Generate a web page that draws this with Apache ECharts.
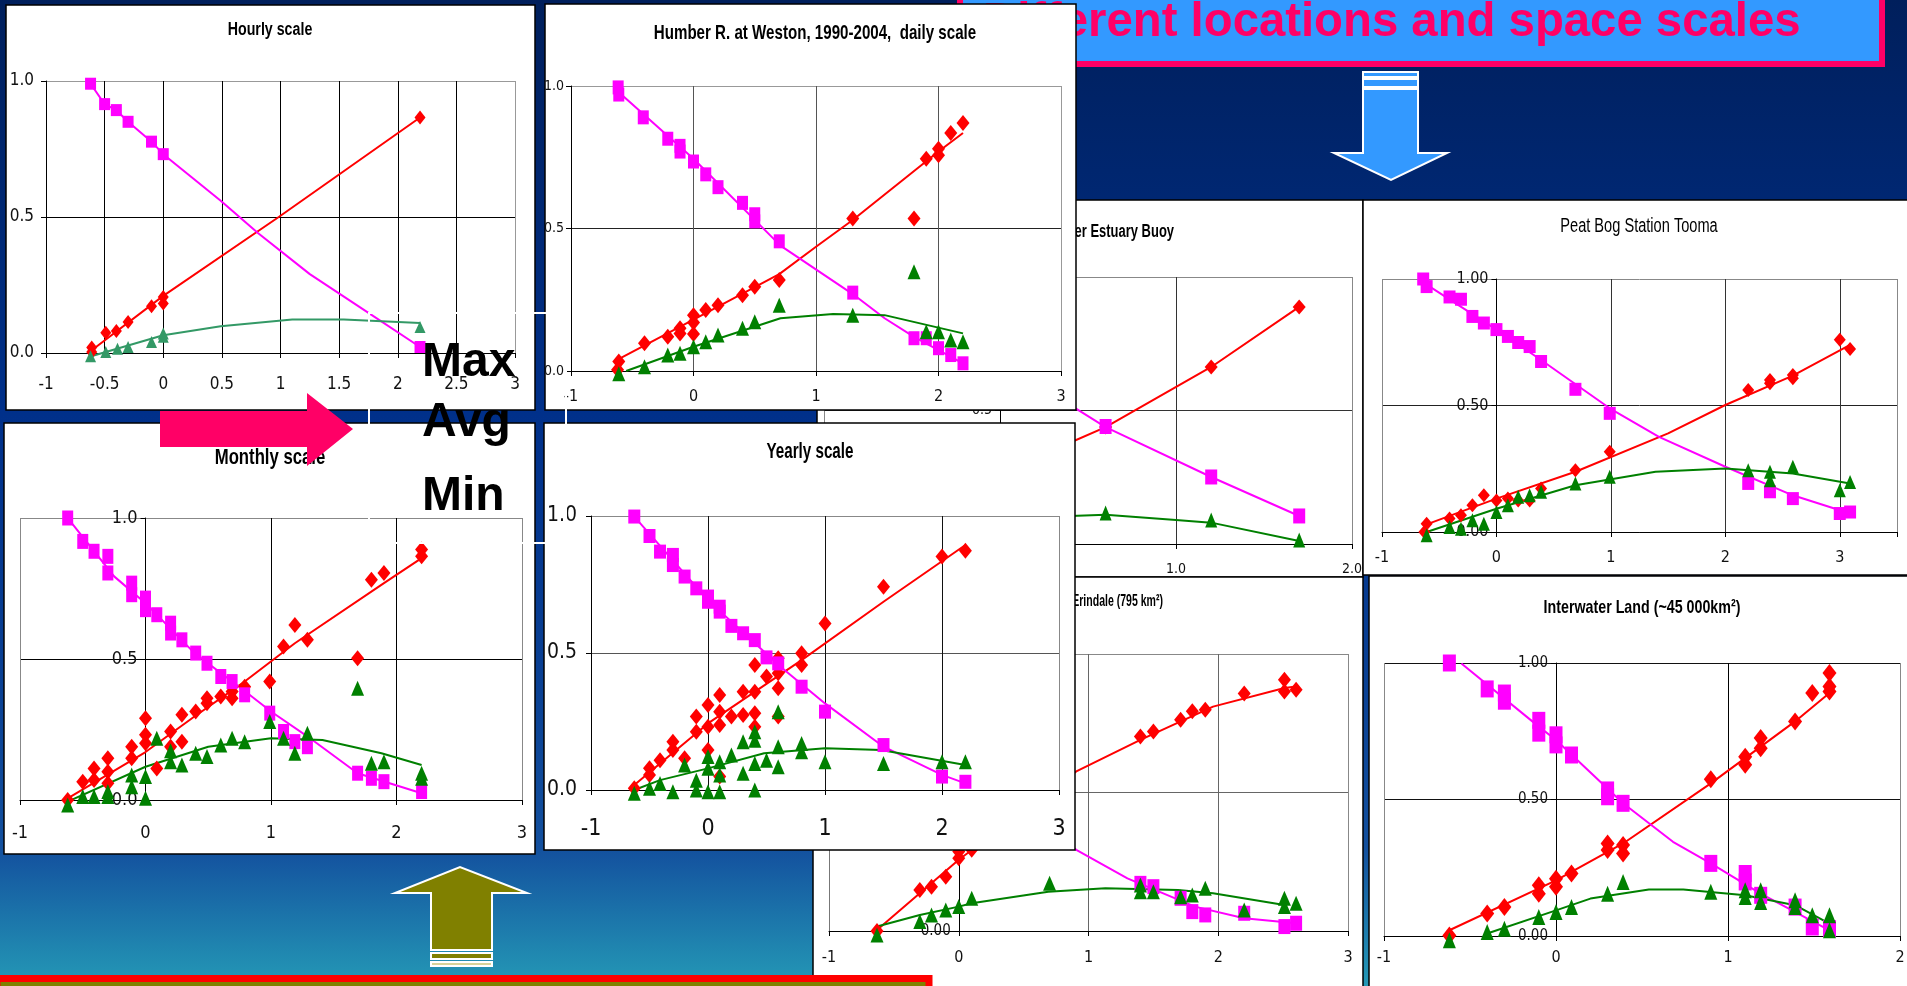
<!DOCTYPE html>
<html>
<head>
<meta charset="utf-8">
<script src="https://cdn.jsdelivr.net/npm/echarts@6/dist/echarts.min.js"></script>
<style>
html,body{margin:0;padding:0;overflow:hidden;background:#00205f}
#c{width:1907px;height:986px}
</style>
</head>
<body>
<div id="c"></div>
<script>
// ---------- Hourly scale ----------
const hourlyMax = [[-0.61,0.004],[-0.61,0.02],[-0.49,0.074],[-0.4,0.081],[-0.3,0.114],[-0.1,0.172],[0,0.206],[0,0.182],[2.19,0.866]];
const hourlyAvg = [[-0.62,0.99],[-0.5,0.915],[-0.4,0.893],[-0.3,0.85],[-0.1,0.777],[0,0.731],[2.19,0.022]];
const hourlyMin = [[-0.62,-0.012],[-0.49,0.004],[-0.39,0.016],[-0.3,0.022],[-0.1,0.04],[0,0.06],[0,0.072],[2.19,0.096]];
const hourlyMaxFit = [[-0.61,0.01],[0,0.21],[0.985,0.5],[2.19,0.866]];
const hourlyAvgFit = [[-0.62,0.99],[-0.5,0.915],[-0.4,0.893],[-0.3,0.85],[-0.1,0.777],[0,0.731],[0.49,0.56],[0.81,0.44],[1.25,0.29],[1.76,0.145],[2.19,0.022]];
const hourlyMinFit = [[-0.6,-0.01],[0,0.065],[0.49,0.098],[1.1,0.123],[1.54,0.123],[2.19,0.11]];

// ---------- Humber R. at Weston, daily ----------
const humberMax = [[-0.61,0.033],[-0.62,0.004],[-0.4,0.097],[-0.21,0.12],[-0.11,0.15],[-0.11,0.132],[0,0.196],[0,0.17],[0,0.13],[0.1,0.214],[0.2,0.231],[0.4,0.266],[0.5,0.296],[0.7,0.319],[1.3,0.535],[1.8,0.535],[1.9,0.745],[2.0,0.78],[2.0,0.757],[2.1,0.835],[2.2,0.87]];
const humberAvg = [[-0.615,0.995],[-0.61,0.97],[-0.41,0.89],[-0.21,0.815],[-0.11,0.79],[-0.11,0.77],[0,0.735],[0.1,0.69],[0.2,0.645],[0.4,0.59],[0.5,0.55],[0.5,0.525],[0.7,0.455],[1.3,0.275],[1.8,0.115],[1.9,0.115],[2.0,0.08],[2.1,0.056],[2.2,0.027]];
const humberMin = [[-0.61,-0.01],[-0.4,0.015],[-0.21,0.056],[-0.11,0.062],[0,0.085],[0.1,0.103],[0.2,0.126],[0.4,0.15],[0.5,0.173],[0.7,0.231],[1.3,0.196],[1.8,0.348],[1.9,0.138],[2.0,0.138],[2.1,0.109],[2.2,0.103]];
const humberMaxFit = [[-0.6,0.044],[0,0.18],[0.7,0.34],[1.0,0.436],[1.3,0.53],[2.0,0.77],[2.2,0.835]];
const humberAvgFit = [[-0.58,0.967],[0,0.745],[0.71,0.44],[1.3,0.27],[1.56,0.185],[1.8,0.12],[2.2,0.027]];
const humberMinFit = [[-0.55,0.0],[0,0.085],[0.71,0.185],[1.14,0.2],[1.56,0.196],[2.2,0.132]];

// ---------- Monthly scale ----------
const monthlyMax = [[-0.62,0.0],[-0.5,0.065],[-0.41,0.112],[-0.41,0.071],[-0.3,0.148],[-0.3,0.1],[-0.3,0.059],[-0.11,0.189],[-0.11,0.148],[0,0.29],[0,0.231],[0,0.201],[0.09,0.112],[0.2,0.243],[0.2,0.189],[0.29,0.302],[0.29,0.207],[0.4,0.314],[0.49,0.361],[0.49,0.343],[0.6,0.367],[0.69,0.385],[0.69,0.361],[0.79,0.402],[0.99,0.42],[1.1,0.544],[1.19,0.621],[1.29,0.568],[1.69,0.503],[1.8,0.781],[1.9,0.805],[2.2,0.888],[2.2,0.864]];
const monthlyAvg = [[-0.62,1.0],[-0.5,0.917],[-0.41,0.882],[-0.3,0.864],[-0.3,0.805],[-0.11,0.769],[-0.11,0.728],[0,0.716],[0,0.675],[0.09,0.657],[0.2,0.627],[0.2,0.592],[0.29,0.568],[0.4,0.521],[0.49,0.485],[0.6,0.438],[0.69,0.42],[0.79,0.373],[0.99,0.308],[1.1,0.243],[1.19,0.207],[1.29,0.189],[1.69,0.095],[1.8,0.077],[1.9,0.065],[2.2,0.03]];
const monthlyMin = [[-0.62,-0.018],[-0.5,0.012],[-0.41,0.012],[-0.3,0.012],[-0.3,0.03],[-0.11,0.089],[-0.11,0.047],[0,0.083],[0,0.006],[0.09,0.219],[0.2,0.136],[0.2,0.175],[0.29,0.124],[0.4,0.166],[0.49,0.154],[0.6,0.195],[0.69,0.219],[0.79,0.207],[0.99,0.278],[1.1,0.219],[1.19,0.166],[1.29,0.237],[1.69,0.396],[1.8,0.13],[1.9,0.136],[2.2,0.095],[2.2,0.077]];
const monthlyMaxFit = [[-0.62,0.006],[0,0.17],[0.39,0.296],[0.79,0.42],[1.19,0.556],[1.9,0.769],[2.2,0.858]];
const monthlyAvgFit = [[-0.61,0.994],[-0.25,0.793],[0,0.698],[0.39,0.521],[0.78,0.39],[1.0,0.314],[1.33,0.213],[1.69,0.095],[2.2,0.024]];
const monthlyMinFit = [[-0.62,-0.006],[0,0.118],[0.5,0.189],[1.0,0.219],[1.41,0.213],[1.88,0.166],[2.2,0.124]];

// ---------- Yearly scale ----------
const yearlyMax = [[-0.63,0.006],[-0.5,0.079],[-0.5,0.055],[-0.41,0.109],[-0.3,0.176],[-0.3,0.146],[-0.2,0.116],[-0.1,0.268],[-0.1,0.213],[0,0.31],[0,0.231],[0,0.146],[0.1,0.347],[0.1,0.286],[0.1,0.237],[0.1,0.049],[0.2,0.268],[0.3,0.359],[0.3,0.274],[0.4,0.456],[0.4,0.359],[0.4,0.28],[0.4,0.231],[0.5,0.414],[0.6,0.481],[0.6,0.426],[0.6,0.371],[0.6,0.268],[0.8,0.499],[0.8,0.456],[1.0,0.608],[1.5,0.742],[2.0,0.852],[2.2,0.873]];
const yearlyAvg = [[-0.63,0.998],[-0.5,0.927],[-0.41,0.87],[-0.3,0.858],[-0.3,0.821],[-0.2,0.779],[-0.1,0.736],[0,0.706],[0,0.687],[0.1,0.669],[0.1,0.651],[0.2,0.599],[0.3,0.572],[0.4,0.547],[0.5,0.484],[0.6,0.462],[0.8,0.377],[1.0,0.286],[1.5,0.164],[2.0,0.049],[2.2,0.03]];
const yearlyMin = [[-0.63,-0.012],[-0.5,0.006],[-0.41,0.024],[-0.3,-0.006],[-0.2,0.091],[-0.1,0.036],[-0.1,0.0],[0,0.122],[0,0.079],[0,-0.006],[0.1,0.103],[0.1,0.055],[0.1,-0.006],[0.2,0.128],[0.3,0.176],[0.3,0.061],[0.4,0.182],[0.4,0.213],[0.4,0.097],[0.4,0.0],[0.5,0.109],[0.6,0.158],[0.6,0.085],[0.6,0.286],[0.8,0.17],[0.8,0.14],[1.0,0.103],[1.5,0.097],[2.0,0.103],[2.2,0.103]];
const yearlyMaxFit = [[-0.63,0.018],[0,0.243],[0.8,0.474],[1.5,0.687],[2.2,0.894]];
const yearlyAvgFit = [[-0.63,0.998],[0,0.693],[0.62,0.45],[1.0,0.316],[1.5,0.158],[2.0,0.055],[2.2,0.024]];
const yearlyMinFit = [[-0.63,0.0],[-0.41,0.036],[0,0.079],[0.48,0.134],[1.0,0.152],[1.48,0.146],[2.2,0.091]];

// ---------- River Estuary Buoy ----------
const estuaryMax = [[0.6,0.438],[1.2,0.663],[1.7,0.888]];
const estuaryAvg = [[0.6,0.44],[1.2,0.251],[1.7,0.105]];
const estuaryMin = [[0.6,0.116],[1.2,0.09],[1.7,0.015]];
const estuaryMaxFit = [[0.4,0.38],[0.6,0.438],[1.2,0.663],[1.7,0.888]];
const estuaryAvgFit = [[0.4,0.52],[0.6,0.438],[1.2,0.251],[1.7,0.105]];
const estuaryMinFit = [[0.4,0.105],[0.6,0.11],[1.0,0.09],[1.2,0.08],[1.7,0.011]];

// ---------- Peat Bog Station Tooma ----------
const peatMax = [[-0.61,0.033],[-0.63,0.0],[-0.41,0.053],[-0.31,0.066],[-0.21,0.106],[-0.11,0.145],[0,0.125],[0.1,0.132],[0.19,0.125],[0.29,0.125],[0.39,0.172],[0.69,0.244],[0.99,0.317],[2.2,0.561],[2.39,0.601],[2.39,0.588],[2.59,0.621],[2.59,0.608],[3.0,0.76],[3.09,0.723]];
const peatAvg = [[-0.64,1.0],[-0.61,0.97],[-0.41,0.929],[-0.31,0.92],[-0.21,0.852],[-0.11,0.826],[0,0.8],[0.1,0.773],[0.19,0.749],[0.29,0.733],[0.39,0.674],[0.69,0.564],[0.99,0.469],[2.2,0.192],[2.39,0.159],[2.59,0.132],[3.0,0.073],[3.09,0.079]];
const peatMin = [[-0.61,-0.013],[-0.41,0.02],[-0.31,0.013],[-0.21,0.046],[-0.11,0.033],[0,0.079],[0.1,0.106],[0.19,0.139],[0.29,0.145],[0.39,0.159],[0.69,0.192],[0.99,0.218],[2.2,0.244],[2.39,0.238],[2.39,0.205],[2.59,0.258],[3.0,0.165],[3.09,0.198]];
const peatMaxFit = [[-0.61,0.03],[0,0.132],[0.69,0.238],[1.5,0.39],[2.0,0.502],[2.59,0.618],[3.09,0.74]];
const peatAvgFit = [[-0.61,0.978],[0,0.8],[0.39,0.68],[0.99,0.489],[1.42,0.376],[2.0,0.258],[2.59,0.145],[3.09,0.073]];
const peatMinFit = [[-0.61,0.0],[0,0.092],[0.69,0.185],[1.39,0.238],[2.0,0.251],[2.59,0.231],[3.09,0.192]];

// ---------- Credit R. at Erindale ----------
const erindaleMax = [[-0.63,0.0],[-0.3,0.148],[-0.21,0.16],[-0.1,0.196],[0,0.263],[0,0.287],[0.1,0.293],[1.4,0.702],[1.5,0.72],[1.71,0.763],[1.8,0.793],[1.9,0.799],[2.2,0.857],[2.51,0.907],[2.51,0.865],[2.6,0.871]];
const erindaleAvg = [[1.4,0.172],[1.5,0.16],[1.71,0.118],[1.8,0.07],[1.9,0.058],[2.2,0.064],[2.51,0.016],[2.6,0.028]];
const erindaleMin = [[-0.63,-0.014],[-0.3,0.034],[-0.21,0.058],[-0.1,0.076],[0,0.088],[0.1,0.118],[0.7,0.172],[1.4,0.166],[1.4,0.142],[1.5,0.142],[1.71,0.124],[1.8,0.13],[1.9,0.154],[2.2,0.076],[2.51,0.118],[2.51,0.088],[2.6,0.1]];
const erindaleMaxFit = [[-0.63,0.004],[0,0.257],[0.906,0.576],[1.4,0.69],[1.96,0.81],[2.51,0.877],[2.6,0.883]];
const erindaleAvgFit = [[0.6,0.4],[0.906,0.293],[1.3,0.19],[1.82,0.088],[2.2,0.046],[2.6,0.028]];
const erindaleMinFit = [[-0.63,0.016],[-0.3,0.058],[0,0.088],[0.1,0.1],[0.69,0.142],[1.13,0.154],[1.69,0.148],[1.96,0.136],[2.51,0.094]];

// ---------- Interwater Land ----------
const interMax = [[-0.62,0.002],[-0.4,0.082],[-0.3,0.106],[-0.1,0.186],[-0.1,0.155],[0,0.21],[0,0.18],[0.09,0.229],[0.3,0.339],[0.3,0.315],[0.39,0.333],[0.39,0.302],[0.9,0.574],[1.1,0.657],[1.1,0.627],[1.19,0.725],[1.19,0.688],[1.39,0.786],[1.49,0.89],[1.59,0.963],[1.59,0.914],[1.59,0.896]];
const interAvg = [[-0.62,1.0],[-0.4,0.905],[-0.3,0.89],[-0.3,0.86],[-0.1,0.79],[-0.1,0.743],[0,0.737],[0,0.7],[0.09,0.663],[0.3,0.535],[0.3,0.51],[0.39,0.486],[0.9,0.266],[1.1,0.229],[1.1,0.198],[1.19,0.149],[1.39,0.106],[1.49,0.033],[1.59,0.027]];
const interMin = [[-0.62,-0.016],[-0.4,0.015],[-0.3,0.027],[-0.1,0.07],[0,0.088],[0.09,0.106],[0.3,0.155],[0.39,0.198],[0.9,0.162],[1.1,0.168],[1.1,0.143],[1.19,0.168],[1.19,0.125],[1.39,0.131],[1.39,0.106],[1.49,0.076],[1.59,0.076],[1.59,0.021]];
const interMaxFit = [[-0.62,0.021],[0,0.204],[0.39,0.339],[0.9,0.559],[1.39,0.786],[1.59,0.89]];
const interAvgFit = [[-0.55,0.998],[-0.1,0.767],[0,0.718],[0.39,0.486],[0.68,0.345],[0.9,0.266],[1.19,0.155],[1.59,0.021]];
const interMinFit = [[-0.4,0.009],[0,0.094],[0.2,0.137],[0.54,0.17],[0.74,0.17],[1.1,0.149],[1.39,0.113],[1.59,0.045]];

// ---------- slide texts ----------
const slideHeading = 'Different locations and space scales';
const legendWords = ['Max', 'Avg', 'Min'];

// ---------- styling & layout ----------
const RED = '#ff0000', MAG = '#ff00ff', GREEN = '#008000';
const NARROW = '"Liberation Sans Narrow","DejaVu Sans Condensed","Liberation Sans",sans-serif';
const f1 = v => v.toFixed(1);
const f2 = v => v.toFixed(2);
const plain = v => String(v);

// zlevel 0: panels lying behind; zlevel 1: the four time-scale panels in front
const panels = [
  { zlevel:0, box:[817,200,546,377], grid:[824,277,528,267],
    title:{text:'River Estuary Buoy', x:1174, y:232, font:'bold 18px "Liberation Sans"', sx:0.72, align:'right'},
    x:{min:-1,max:2,interval:1,fmt:f1,size:14,margin:18,split:['#888','#222','#333','#888']},
    y:{min:0,max:1,interval:0.5,fmt:f1,size:14,margin:8,atZero:true,split:['#000','#333','#888']},
    sym:{max:[13,15],avg:[12,15],min:[12,15]},
    d:[estuaryMax,estuaryAvg,estuaryMin,estuaryMaxFit,estuaryAvgFit,estuaryMinFit] },
  { zlevel:0, box:[813,577,550,420], grid:[829,654,519,277],
    title:{text:'Credit R. at Erindale (795 km²)', x:1163, y:601, font:'bold 17px "Liberation Sans"', sx:0.62, align:'right'},
    x:{min:-1,max:3,interval:1,fmt:plain,size:16,margin:19,split:['#777','#000','#666','#666','#888']},
    y:{min:0,max:1,interval:0.5,fmt:f2,size:15,margin:8,atZero:true,split:['#000','#666','#888']},
    sym:{max:[13,16],avg:[12,15],min:[13,15]},
    d:[erindaleMax,erindaleAvg,erindaleMin,erindaleMaxFit,erindaleAvgFit,erindaleMinFit] },
  { zlevel:0, box:[1363,200,560,375], grid:[1382,279,515,253],
    title:{text:'Peat Bog Station Tooma', x:1639, y:226, font:'20px "Liberation Sans"', sx:0.73, align:'center'},
    x:{min:-1,max:3.5,interval:1,fmt:v => (v === 3.5 ? '' : plain(v)),size:16,margin:18,split:['#888','#333','#333','#333','#333','#888']},
    y:{min:0,max:1,interval:0.5,fmt:f2,size:16,margin:8,atZero:true,split:['#000','#222','#888']},
    sym:{max:[12,14],avg:[12,13],min:[12,14]},
    d:[peatMax,peatAvg,peatMin,peatMaxFit,peatAvgFit,peatMinFit] },
  { zlevel:0, box:[1369,576,560,420], grid:[1384,663,516,273],
    title:{text:'Interwater Land (~45 000km²)', x:1642, y:608, font:'bold 19px "Liberation Sans"', sx:0.75, align:'center'},
    x:{min:-1,max:2,interval:1,fmt:plain,size:16,margin:14,split:['#888','#000','#000','#888']},
    y:{min:0,max:1,interval:0.5,fmt:f2,size:15,margin:8,atZero:true,split:['#000','#111','#111']},
    sym:{max:[14,18],avg:[13,17],min:[13,16]},
    d:[interMax,interAvg,interMin,interMaxFit,interAvgFit,interMinFit] },
  { zlevel:1, box:[6,5,529,405], grid:[46,81,469,272],
    title:{text:'Hourly scale', x:270, y:30, font:'bold 18px "Liberation Sans"', sx:0.79, align:'center'},
    x:{min:-1,max:3,interval:0.5,fmt:plain,size:17,margin:23,split:['#000','#000','#000','#000','#000','#000','#000','#000','#999']},
    y:{min:0,max:1,interval:0.5,fmt:f1,size:17,margin:12,atZero:false,split:['#000','#000','#999']},
    sym:{max:[11,14],avg:[11,12],min:[11,12]}, minColor:'#339966',
    d:[hourlyMax,hourlyAvg,hourlyMin,hourlyMaxFit,hourlyAvgFit,hourlyMinFit] },
  { zlevel:1, box:[545,4,531,406], grid:[571,86,490,285],
    title:{text:'Humber R. at Weston, 1990-2004,  daily scale', x:815, y:33, font:'bold 21px "Liberation Sans"', sx:0.72, align:'center'},
    x:{min:-1,max:3,interval:1,fmt:plain,size:16,margin:18,split:['#000','#555','#555','#555','#999']},
    y:{min:0,max:1,interval:0.5,fmt:f1,size:14,margin:7,atZero:false,split:['#000','#222','#999']},
    sym:{max:[13,16],avg:[11,14],min:[13,15]},
    d:[humberMax,humberAvg,humberMin,humberMaxFit,humberAvgFit,humberMinFit] },
  { zlevel:1, box:[4,423,531,431], grid:[20,518,502,282],
    title:{text:'Monthly scale', x:270, y:458, font:'bold 22px "Liberation Sans"', sx:0.76, align:'center'},
    x:{min:-1,max:3,interval:1,fmt:plain,size:18,margin:24,split:['#888','#000','#000','#000','#888']},
    y:{min:0,max:1,interval:0.5,fmt:f1,size:18,margin:8,atZero:true,split:['#000','#000','#888']},
    sym:{max:[13,16],avg:[11,15],min:[13,15]},
    d:[monthlyMax,monthlyAvg,monthlyMin,monthlyMaxFit,monthlyAvgFit,monthlyMinFit] },
  { zlevel:1, box:[544,423,531,427], grid:[591,516,468,274],
    title:{text:'Yearly scale', x:810, y:452, font:'bold 22px "Liberation Sans"', sx:0.69, align:'center'},
    x:{min:-1,max:3,interval:1,fmt:plain,size:23,margin:28,split:['#000','#111','#111','#111','#888']},
    y:{min:0,max:1,interval:0.5,fmt:f1,size:21,margin:14,atZero:false,split:['#000','#555','#888']},
    sym:{max:[13,16],avg:[12,14],min:[13,15]},
    d:[yearlyMax,yearlyAvg,yearlyMin,yearlyMaxFit,yearlyAvgFit,yearlyMinFit] }
];

const grids = [], xAxes = [], yAxes = [], series = [];
const graphics = [];

// slide background
graphics.push({ type:'rect', zlevel:0, z:-100, silent:true,
  shape:{x:0,y:0,width:1907,height:986},
  style:{fill:new echarts.graphic.LinearGradient(0,0,0,1,[
    {offset:0,color:'#001f5c'},{offset:0.42,color:'#00308a'},{offset:0.7,color:'#0a4194'},
    {offset:0.86,color:'#13509e'},{offset:1,color:'#2499b6'}])}});

// heading box
graphics.push({ type:'rect', zlevel:0, z:-90, silent:true,
  shape:{x:960,y:-20,width:922,height:84}, style:{fill:'#3399ff',stroke:'#ff0066',lineWidth:6}});
graphics.push({ type:'text', zlevel:0, z:-89, silent:true, x:983, y:23,
  style:{text:slideHeading, font:'bold 47.3px "Liberation Sans"', fill:'#ff0066',
    textAlign:'left', textVerticalAlign:'middle', align:'left', verticalAlign:'middle'}});

// down arrow under the heading
graphics.push({ type:'polygon', zlevel:0, z:-89, silent:true,
  shape:{points:[[1363,89],[1418,89],[1418,153],[1447,153],[1391,180],[1334,153],[1363,153]]},
  style:{fill:'#3399ff',stroke:'#fff',lineWidth:2}});
graphics.push({ type:'rect', zlevel:0, z:-89, silent:true,
  shape:{x:1363,y:79,width:55,height:8}, style:{fill:'#3399ff',stroke:'#fff',lineWidth:2}});
graphics.push({ type:'rect', zlevel:0, z:-89, silent:true,
  shape:{x:1363,y:72,width:55,height:5}, style:{fill:'#3399ff',stroke:'#fff',lineWidth:2}});

// up arrow at the bottom
graphics.push({ type:'polygon', zlevel:0, z:-89, silent:true,
  shape:{points:[[431,950],[431,893],[395,893],[460,867],[527,893],[492,893],[492,950]]},
  style:{fill:'#808000',stroke:'#fff',lineWidth:2}});
graphics.push({ type:'rect', zlevel:0, z:-89, silent:true,
  shape:{x:431,y:953,width:61,height:6}, style:{fill:'#808000',stroke:'#fff',lineWidth:2}});
graphics.push({ type:'rect', zlevel:0, z:-89, silent:true,
  shape:{x:431,y:962,width:61,height:4}, style:{fill:'#d6d29a',stroke:'#fff',lineWidth:2}});

panels.forEach((p, i) => {
  const zl = p.zlevel;
  graphics.push({ type:'rect', zlevel:zl, z:-50, silent:true,
    shape:{x:p.box[0],y:p.box[1],width:p.box[2],height:p.box[3]},
    style:{fill:'#fff',stroke:'#000',lineWidth:1.5}});
  graphics.push({ type:'text', zlevel:zl, z:50, silent:true, x:p.title.x, y:p.title.y, scaleX:p.title.sx,
    style:{text:p.title.text, font:p.title.font, fill:'#000',
      textAlign:p.title.align, textVerticalAlign:'middle', align:p.title.align, verticalAlign:'middle'}});

  grids.push({ left:p.grid[0], top:p.grid[1], width:p.grid[2], height:p.grid[3],
    show:false, containLabel:false, outerBoundsMode:'none', zlevel:zl });

  const axisCommon = (a, extra) => Object.assign({
    type:'value', gridIndex:i, zlevel:zl, min:a.min, max:a.max, interval:a.interval,
    axisLine:{show:true, onZero:false, lineStyle:{color:'#000', width:1}},
    axisTick:{show:true, length:5, lineStyle:{color:'#000'}},
    axisLabel:{show:true, formatter:a.fmt, fontSize:a.size, fontFamily:NARROW, color:'#111',
      margin:a.margin, hideOverlap:false, showMinLabel:true, showMaxLabel:true},
    splitLine:{show:true, showMinLine:true, showMaxLine:true, lineStyle:{color:a.split, width:1}}
  }, extra || {});
  xAxes.push(axisCommon(p.x));
  // a y axis standing on x = 0 is shifted right from the grid's left edge
  const shift = p.y.atZero ? -p.grid[2] * (0 - p.x.min) / (p.x.max - p.x.min) : 0;
  yAxes.push(axisCommon(p.y, { position:'left', offset:shift }));

  const minColor = p.minColor || GREEN;
  const base = { xAxisIndex:i, yAxisIndex:i, zlevel:zl, silent:true, clip:false, animation:false };
  [[p.d[3], RED], [p.d[4], MAG], [p.d[5], minColor]].forEach(([d, c]) => {
    series.push(Object.assign({}, base, { type:'line', data:d, symbol:'none', showSymbol:false,
      smooth:false, lineStyle:{color:c, width:2}, z:3 }));
  });
  series.push(Object.assign({}, base, { type:'scatter', data:p.d[0], symbol:'diamond',
    symbolSize:p.sym.max, itemStyle:{color:RED, opacity:1}, z:4 }));
  series.push(Object.assign({}, base, { type:'scatter', data:p.d[1], symbol:'rect',
    symbolSize:p.sym.avg, itemStyle:{color:MAG, opacity:1}, z:5 }));
  series.push(Object.assign({}, base, { type:'scatter', data:p.d[2], symbol:'triangle',
    symbolSize:p.sym.min, itemStyle:{color:minColor, opacity:1}, z:6 }));
});

// overlay: white frame with Max / Avg / Min, pink arrow, bottom box
graphics.push({ type:'rect', zlevel:2, z:10, silent:true,
  shape:{x:369,y:313,width:197,height:230}, style:{fill:null,stroke:'#fff',lineWidth:2}});
[[legendWords[0],363],[legendWords[1],423],[legendWords[2],497]].forEach(([t, y]) => {
  graphics.push({ type:'text', zlevel:2, z:20, silent:true, x:422, y:y,
    style:{text:t, font:'bold 48px "Liberation Sans"', fill:'#000',
      textAlign:'left', textVerticalAlign:'middle', align:'left', verticalAlign:'middle'}});
});
graphics.push({ type:'polygon', zlevel:2, z:15, silent:true,
  shape:{points:[[160,411],[307,411],[307,393],[353,429],[307,466],[307,447],[160,447]]},
  style:{fill:'#ff0066'}});
graphics.push({ type:'rect', zlevel:2, z:15, silent:true,
  shape:{x:-3,y:978.5,width:932,height:20}, style:{fill:'#808000',stroke:'#ff0000',lineWidth:7}});

const chart = echarts.init(document.getElementById('c'), null, {renderer:'canvas', width:1907, height:986});
chart.setOption({
  animation:false,
  backgroundColor:'#00205f',
  grid:grids, xAxis:xAxes, yAxis:yAxes, series:series,
  graphic:{elements:graphics}
});
</script>
</body>
</html>
